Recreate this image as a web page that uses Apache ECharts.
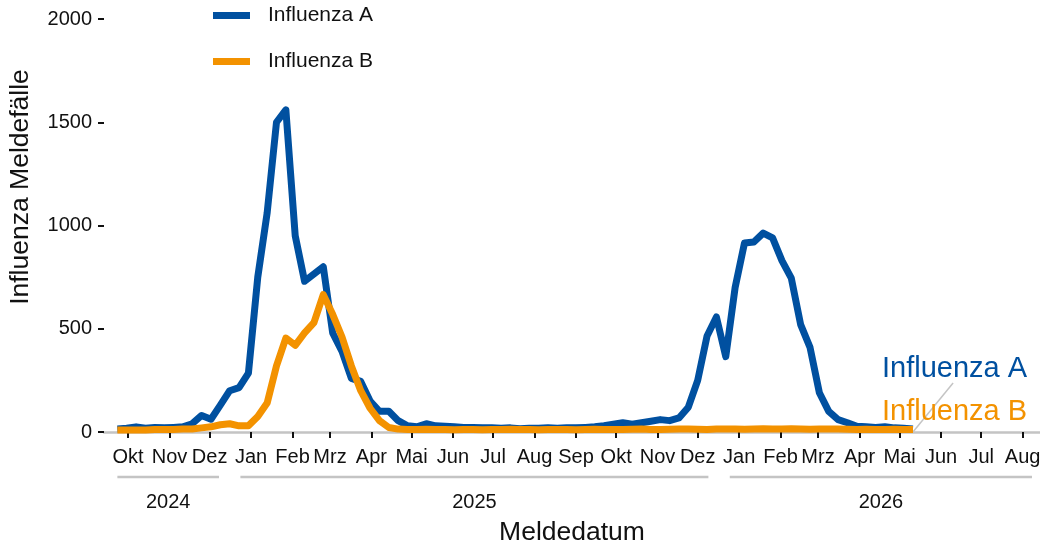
<!DOCTYPE html>
<html>
<head>
<meta charset="utf-8">
<script src="https://cdn.jsdelivr.net/npm/echarts@6/dist/echarts.min.js"></script>
<style>
  html, body { margin: 0; padding: 0; background: #fff; }
  #chart { width: 1040px; height: 549px; }
</style>
</head>
<body>
<div id="chart"></div>
<script>
// weekly reports, first week starting 2024-09-23
const firstWeek = [2024, 8, 23]

const fluA = [
  15, 18, 25, 18, 22, 20, 22, 25, 40, 80,
  62, 130, 200, 215, 285, 750, 1060, 1500, 1560, 950,
  730, 765, 800, 480, 390, 260, 245, 150, 100, 100,
  55, 30, 25, 40, 30, 28, 25, 22, 22, 20,
  20, 18, 20, 16, 18, 18, 20, 18, 20, 20,
  22, 25, 30, 38, 45, 38, 45, 52, 60, 55,
  68, 120, 250, 465, 557, 365, 700, 915, 920, 963,
  940, 830, 745, 520, 410, 190, 100, 60, 45, 28,
  25, 22, 25, 20, 18, 15,
]

const fluB = [
  10, 10, 10, 10, 12, 12, 12, 14, 15, 20,
  25, 35, 40, 30, 30, 75, 140, 320, 455, 420,
  480, 530, 665, 570, 460, 320, 200, 115, 55, 22,
  14, 12, 12, 13, 12, 12, 11, 12, 12, 11,
  12, 12, 13, 12, 12, 11, 12, 12, 12, 11,
  12, 13, 12, 12, 12, 13, 14, 12, 12, 13,
  14, 14, 13, 12, 14, 15, 14, 13, 15, 16,
  14, 15, 16, 14, 13, 14, 15, 14, 13, 12,
  13, 12, 12, 13, 12, 12,
]

const monthTicks = [
  '2024-10-01', '2024-11-01', '2024-12-01', '2025-01-01', '2025-02-01', '2025-03-01',
  '2025-04-01', '2025-05-01', '2025-06-01', '2025-07-01', '2025-08-01', '2025-09-01',
  '2025-10-01', '2025-11-01', '2025-12-01', '2026-01-01', '2026-02-01', '2026-03-01',
  '2026-04-01', '2026-05-01', '2026-06-01', '2026-07-01', '2026-08-01',
]
const monthLabels = [
  'Okt', 'Nov', 'Dez', 'Jan', 'Feb', 'Mrz', 'Apr', 'Mai', 'Jun', 'Jul', 'Aug', 'Sep',
  'Okt', 'Nov', 'Dez', 'Jan', 'Feb', 'Mrz', 'Apr', 'Mai', 'Jun', 'Jul', 'Aug',
]

const yearLabels = ['2024', '2025', '2026']
const yearStart = ['2024-09-23', '2024-12-24', '2025-12-25']
const yearEnd = ['2024-12-08', '2025-12-09', '2026-08-08']

const yTicks = [0, 500, 1000, 1500, 2000]

const BLUE = '#0050a0'
const ORANGE = '#f39200'
const GREY = '#c4c4c4'
const FONT = 'Liberation Sans, Arial, sans-serif'

function toTime(s) {
  const [y, m, d] = s.split('-').map(Number)
  return +new Date(y, m - 1, d)
}

const weeks = fluA.map((_, i) => +new Date(firstWeek[0], firstWeek[1], firstWeek[2] + 7 * i))
const xMin = toTime('2024-09-13')
const xMax = toTime('2026-08-14')
const tickTimes = monthTicks.map(toTime)
const yearCenters = yearStart.map((s, i) => (toTime(s) + toTime(yearEnd[i])) / 2)

// label connector for Influenza B (repel style)
const connector = [[weeks[weeks.length - 1], 0], [toTime('2026-06-10'), 237]]

const chart = echarts.init(document.getElementById('chart'))

chart.setOption({
  animation: false,
  backgroundColor: '#fff',
  textStyle: { fontFamily: FONT },
  grid: [
    { left: 104, right: 0, top: 19, height: 413, outerBoundsMode: 'none' },
    { left: 104, right: 0, top: 472, height: 10, outerBoundsMode: 'none' },
  ],
  legend: {
    data: ['Influenza A', 'Influenza B'],
    orient: 'vertical',
    left: 213,
    top: 5,
    padding: 0,
    itemWidth: 37,
    itemHeight: 7,
    itemGap: 25,
    icon: 'rect',
    textStyle: { fontSize: 21, color: '#111', fontFamily: FONT, padding: [0, 0, 0, 13] },
  },
  xAxis: [
    {
      type: 'value',
      gridIndex: 0,
      min: xMin,
      max: xMax,
      axisLine: { show: true, lineStyle: { color: GREY, width: 2.5 } },
      axisTick: { show: true, length: 6, customValues: tickTimes, lineStyle: { color: '#111', width: 2 } },
      axisLabel: {
        customValues: tickTimes,
        fontSize: 20,
        color: '#111',
        margin: 15,
        formatter: (v) => {
          const i = tickTimes.indexOf(v)
          return i >= 0 ? monthLabels[i] : ''
        },
      },
      splitLine: { show: false },
    },
    {
      type: 'value',
      gridIndex: 1,
      min: xMin,
      max: xMax,
      axisLine: { show: false },
      axisTick: { show: false },
      axisLabel: {
        customValues: yearCenters,
        fontSize: 20,
        color: '#111',
        margin: 10,
        formatter: (v) => {
          const i = yearCenters.indexOf(v)
          return i >= 0 ? yearLabels[i] : ''
        },
      },
      splitLine: { show: false },
    },
  ],
  yAxis: [
    {
      type: 'value',
      gridIndex: 0,
      min: 0,
      max: 2000,
      interval: 500,
      axisLine: { show: false },
      axisTick: { show: true, length: 6, lineStyle: { color: '#111', width: 2 } },
      axisLabel: {
        fontSize: 20,
        color: '#111',
        margin: 12,
        formatter: (v) => (yTicks.includes(v) ? String(v) : ''),
      },
      splitLine: { show: false },
    },
    { type: 'value', gridIndex: 1, min: 0, max: 1, show: false },
  ],
  series: [
    {
      name: 'Influenza A',
      type: 'line',
      data: weeks.map((t, i) => [t, fluA[i]]),
      symbol: 'none',
      color: BLUE,
      lineStyle: { color: BLUE, width: 7, join: 'round', cap: 'butt' },
      endLabel: {
        show: true,
        formatter: '{a}',
        color: BLUE,
        fontSize: 29,
        fontFamily: FONT,
        distance: 0,
        offset: [-31, -60],
      },
      z: 3,
    },
    {
      name: 'Influenza B',
      type: 'line',
      data: weeks.map((t, i) => [t, fluB[i]]),
      symbol: 'none',
      color: ORANGE,
      lineStyle: { color: ORANGE, width: 7, join: 'round', cap: 'butt' },
      endLabel: {
        show: true,
        formatter: '{a}',
        color: ORANGE,
        fontSize: 29,
        fontFamily: FONT,
        distance: 0,
        offset: [-31, -18],
      },
      z: 4,
    },
    {
      name: 'connector',
      type: 'line',
      data: connector,
      symbol: 'none',
      silent: true,
      lineStyle: { color: GREY, width: 1.5 },
      z: 2,
    },
    ...yearLabels.map((y, i) => ({
      name: 'year ' + y,
      type: 'line',
      xAxisIndex: 1,
      yAxisIndex: 1,
      data: [[toTime(yearStart[i]), 0.5], [toTime(yearEnd[i]), 0.5]],
      symbol: 'none',
      silent: true,
      lineStyle: { color: GREY, width: 2.5 },
    })),
  ],
  graphic: [
    {
      type: 'text',
      x: 21,
      y: 187,
      rotation: Math.PI / 2,
      style: {
        text: 'Influenza Meldefälle',
        fontSize: 26.5,
        fontFamily: FONT,
        fill: '#111',
        textAlign: 'center',
        textVerticalAlign: 'middle',
      },
    },
    {
      type: 'text',
      x: 572,
      y: 533,
      style: {
        text: 'Meldedatum',
        fontSize: 26.5,
        fontFamily: FONT,
        fill: '#111',
        textAlign: 'center',
        textVerticalAlign: 'middle',
      },
    },
  ],
})
</script>
</body>
</html>
